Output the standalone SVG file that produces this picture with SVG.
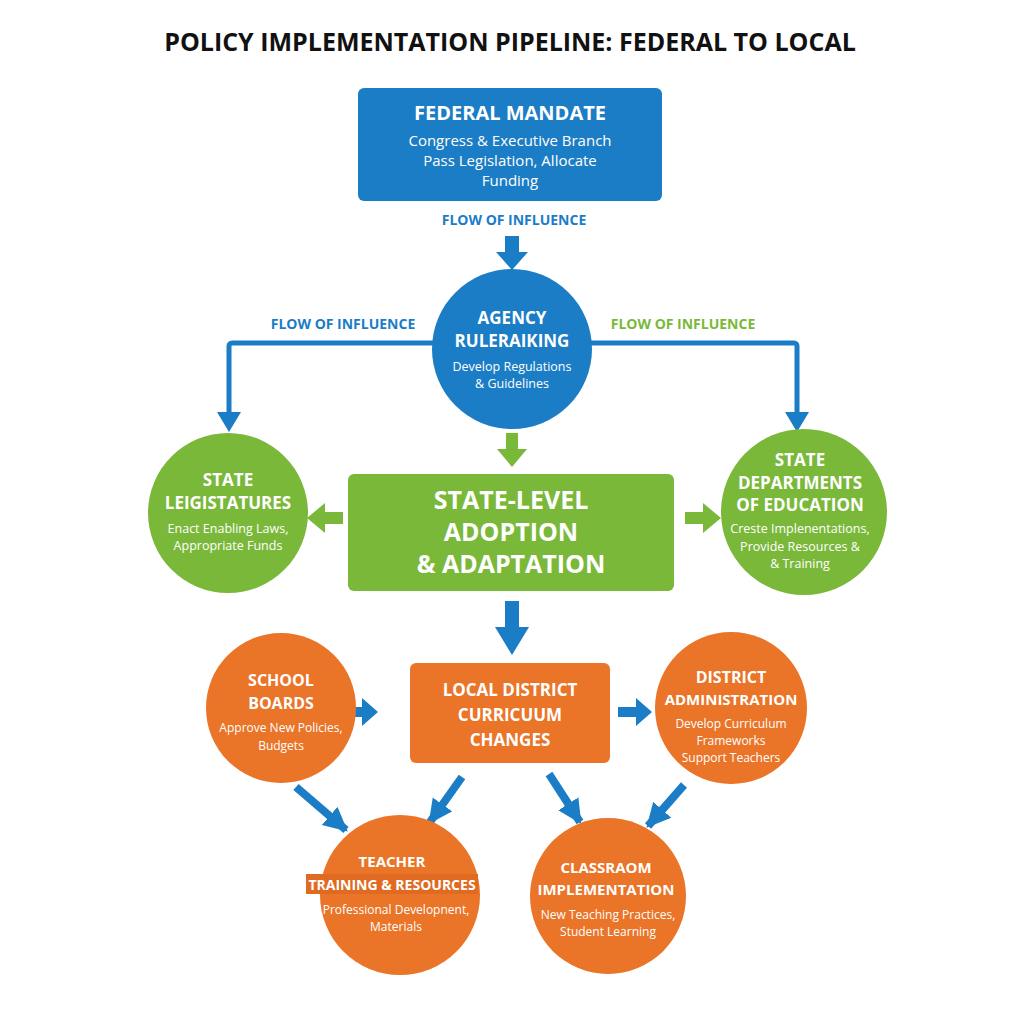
<svg xmlns="http://www.w3.org/2000/svg" width="1024" height="1024" viewBox="0 0 1024 1024">
<defs>
<style>
text{font-family:"Open Sans","Liberation Sans",sans-serif;text-anchor:middle;fill:#fff}
.t{font-weight:700;font-size:17px}
.s{font-size:12.5px}
.big{font-weight:700;font-size:25px}
.lab{font-weight:700;font-size:14px}
.blue{fill:#1b7dc5}.green{fill:#7ab83a}.orange{fill:#ea7428}
.bl{stroke:#1b7dc5;stroke-width:5;fill:none}
.dg{stroke:#1b7dc5;stroke-width:8}
</style>
<marker id="ab" viewBox="0 0 10 10" refX="9" refY="5" markerWidth="3" markerHeight="3.2" orient="auto"><path d="M0,0L10,5L0,10z" fill="#1b7dc5"/></marker>
</defs>
<rect width="1024" height="1024" fill="#fff"/>
<text x="510" y="51" style="fill:#111;font-weight:700;font-size:25px;font-family:'Open Sans','Liberation Sans',sans-serif">POLICY IMPLEMENTATION PIPELINE: FEDERAL TO LOCAL</text>
<g id="connectors">
<text x="514" y="225" class="lab" style="fill:#1b7dc5">FLOW OF INFLUENCE</text>
<text x="343" y="329" class="lab" style="fill:#1b7dc5">FLOW OF INFLUENCE</text>
<text x="683" y="329" class="lab" style="fill:#7ab83a">FLOW OF INFLUENCE</text>
<path d="M505,236h14v16h9l-16,18l-16,-18h9z" fill="#1b7dc5"/>
<path d="M434,343H232a3,3 0 0 0 -3,3V414" class="bl"/>
<path d="M217,412h24l-12,20z" fill="#1b7dc5"/>
<path d="M590,343H794a3,3 0 0 1 3,3V414" class="bl"/>
<path d="M785,412h24l-12,20z" fill="#1b7dc5"/>
<path d="M506,433h12v16h9l-15,18l-15,-18h9z" fill="#7ab83a"/>
<path d="M343,512v12h-18v9l-18,-15l18,-15v9z" fill="#7ab83a"/>
<path d="M685,512v12h18v9l18,-15l-18,-15v9z" fill="#7ab83a"/>
<path d="M505,601h14v26h10l-17,28l-17,-28h10z" fill="#1b7dc5"/>
<path d="M340,707v10h22v9l16,-14l-16,-14v9z" fill="#1b7dc5"/>
<path d="M618,707v10h18v9l16,-14l-16,-14v9z" fill="#1b7dc5"/>
<path d="M296,787L346,830" class="dg" marker-end="url(#ab)"/>
<path d="M462,777L430,822" class="dg" marker-end="url(#ab)"/>
<path d="M549,774L580,822" class="dg" marker-end="url(#ab)"/>
<path d="M684,785L648,826" class="dg" marker-end="url(#ab)"/>
</g>
<g id="federal">
<rect x="358" y="88" width="304" height="113" rx="6" class="blue"/>
<text x="510" y="120" class="t" style="font-size:20px">FEDERAL MANDATE</text>
<text x="510" y="146" style="font-size:15px">Congress &amp; Executive Branch</text>
<text x="510" y="166" style="font-size:15px">Pass Legislation, Allocate</text>
<text x="510" y="186" style="font-size:15px">Funding</text>
</g>
<g id="agency">
<circle cx="512" cy="349" r="80" class="blue"/>
<text x="512" y="324" class="t">AGENCY</text>
<text x="512" y="347" class="t">RULERAIKING</text>
<text x="512" y="371" class="s">Develop Regulations</text>
<text x="512" y="388" class="s">&amp; Guidelines</text>
</g>
<g id="state">
<rect x="348" y="474" width="326" height="117" rx="6" class="green"/>
<text x="511" y="509" class="big">STATE-LEVEL</text>
<text x="511" y="541" class="big">ADOPTION</text>
<text x="511" y="573" class="big">&amp; ADAPTATION</text>
</g>
<g id="legislatures">
<circle cx="228" cy="513" r="80" class="green"/>
<text x="228" y="486" class="t">STATE</text>
<text x="228" y="509" class="t">LEIGISTATURES</text>
<text x="228" y="533" class="s">Enact Enabling Laws,</text>
<text x="228" y="550" class="s">Appropriate Funds</text>
</g>
<g id="deped">
<circle cx="804" cy="512" r="83" class="green"/>
<text x="800" y="466" class="t">STATE</text>
<text x="800" y="489" class="t">DEPARTMENTS</text>
<text x="800" y="511" class="t">OF EDUCATION</text>
<text x="800" y="533" class="s">Creste Implenentations,</text>
<text x="800" y="551" class="s">Provide Resources &amp;</text>
<text x="800" y="568" class="s">&amp; Training</text>
</g>
<g id="local">
<rect x="410" y="663" width="200" height="100" rx="6" class="orange"/>
<text x="510" y="696" class="t">LOCAL DISTRICT</text>
<text x="510" y="721" class="t">CURRICUUM</text>
<text x="510" y="746" class="t">CHANGES</text>
</g>
<g id="boards">
<circle cx="281" cy="708" r="75" class="orange"/>
<text x="281" y="686" class="t" style="font-size:16px">SCHOOL</text>
<text x="281" y="709" class="t" style="font-size:16px">BOARDS</text>
<text x="281" y="732" class="s" style="font-size:12px">Approve New Policies,</text>
<text x="281" y="750" class="s" style="font-size:12px">Budgets</text>
</g>
<g id="admin">
<circle cx="731" cy="708" r="76" class="orange"/>
<text x="731" y="683" class="t" style="font-size:16px">DISTRICT</text>
<text x="731" y="705" class="t" style="font-size:15px">ADMINISTRATION</text>
<text x="731" y="728" class="s" style="font-size:12px">Develop Curriculum</text>
<text x="731" y="745" class="s" style="font-size:12px">Frameworks</text>
<text x="731" y="762" class="s" style="font-size:12px">Support Teachers</text>
</g>
<g id="teacher">
<circle cx="400" cy="895" r="80" class="orange"/>
<rect x="306" y="874" width="172" height="20" fill="#e06a22"/>
<text x="392" y="867" class="t" style="font-size:15px">TEACHER</text>
<text x="392" y="890" class="t" style="font-size:14px">TRAINING &amp; RESOURCES</text>
<text x="396" y="914" class="s" style="font-size:12px">Professional Developnent,</text>
<text x="396" y="931" class="s" style="font-size:12px">Materials</text>
</g>
<g id="classroom">
<circle cx="608" cy="896" r="78" class="orange"/>
<text x="606" y="873" class="t" style="font-size:15px">CLASSRAOM</text>
<text x="606" y="895" class="t" style="font-size:15px">IMPLEMENTATION</text>
<text x="608" y="919" class="s" style="font-size:12px">New Teaching Practices,</text>
<text x="608" y="936" class="s" style="font-size:12px">Student Learning</text>
</g>
</svg>
